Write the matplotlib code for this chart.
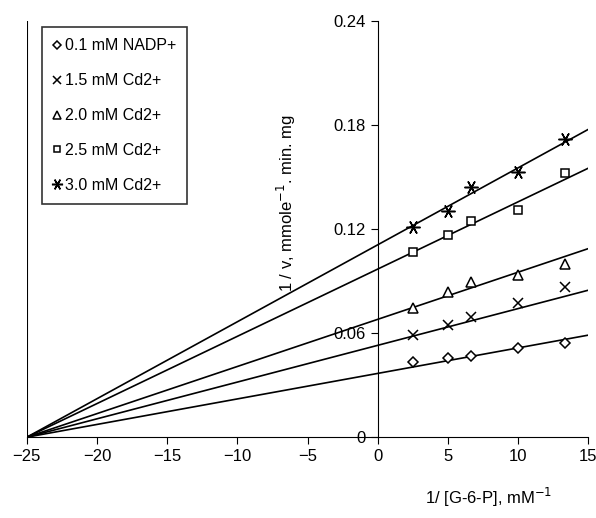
import matplotlib.pyplot as plt
import numpy as np

plt.rcParams["font.family"] = ["Liberation Sans", "DejaVu Sans"]

x_pts = [2.5, 5, 6.67, 10, 13.33]
labels = ['0.1 mM NADP+', '1.5 mM Cd2+', '2.0 mM Cd2+', '2.5 mM Cd2+', '3.0 mM Cd2+']
markers = ['D', 'x', '^', 's', (6, 2, 90)]
y_nadp = [0.0433, 0.0456, 0.0467, 0.0513, 0.0542]
y_cd15 = [0.0588, 0.0646, 0.0692, 0.0773, 0.0865]
y_cd20 = [0.0744, 0.0837, 0.0894, 0.0935, 0.0998]
y_cd25 = [0.1067, 0.1165, 0.1246, 0.1310, 0.1523]
y_cd30 = [0.1212, 0.1304, 0.1442, 0.1529, 0.1719]
intercepts = [0.0368, 0.053, 0.068, 0.097, 0.111]
x_int = -25
series = [y_nadp, y_cd15, y_cd20, y_cd25, y_cd30]
sizes = [5, 7, 6.5, 6, 10]

fig = plt.figure(figsize=(5.96, 5.18), dpi=100)
ax = fig.add_axes([0.045, 0.156, 0.942, 0.803])

xl = np.array([x_int, 15])
for ys, m, lab, b, ms in zip(series, markers, labels, intercepts, sizes):
    slope = b / (0 - x_int)
    ax.plot(xl, b + slope * xl, color='black', lw=1.2)
    ax.plot(x_pts, ys, linestyle='none', marker=m, ms=ms, mfc='white',
            mec='black', mew=1.1, label=lab)

ax.set_xlim(-25, 15)
ax.set_ylim(0, 0.24)
ax.spines['left'].set_position(('data', 0))
ax.spines['right'].set_visible(False)
ax.spines['top'].set_visible(False)
ax.axvline(-25, color='black', lw=1.5)
ax.set_xticks(np.arange(-25, 16, 5))
ax.set_xticklabels(['\u221225', '\u221220', '\u221215', '\u221210', '\u22125', '0', '5', '10', '15'])
ax.set_yticks([0, 0.06, 0.12, 0.18, 0.24])
ax.set_yticklabels(['0', '0.06', '0.12', '0.18', '0.24'])
ax.tick_params(labelsize=12, direction='out', length=5)
ax.text(-6.5, 0.135, '1 / v, mmole$^{-1}$. min. mg', rotation=90, ha='center', va='center', fontsize=12)
fig.text(0.82, 0.04, '1/ [G-6-P], mM$^{-1}$', ha='center', va='center', fontsize=12)
leg = ax.legend(loc='upper left', bbox_to_anchor=(0.025, 0.99), fontsize=11.5, frameon=True, fancybox=False,
                edgecolor='black', handlelength=0.4, handletextpad=0.3, labelspacing=1.25, borderpad=0.7,
                borderaxespad=0.1, markerscale=0.8)
leg.get_frame().set_linewidth(1.2)

fig.savefig('out.png', dpi=100)
